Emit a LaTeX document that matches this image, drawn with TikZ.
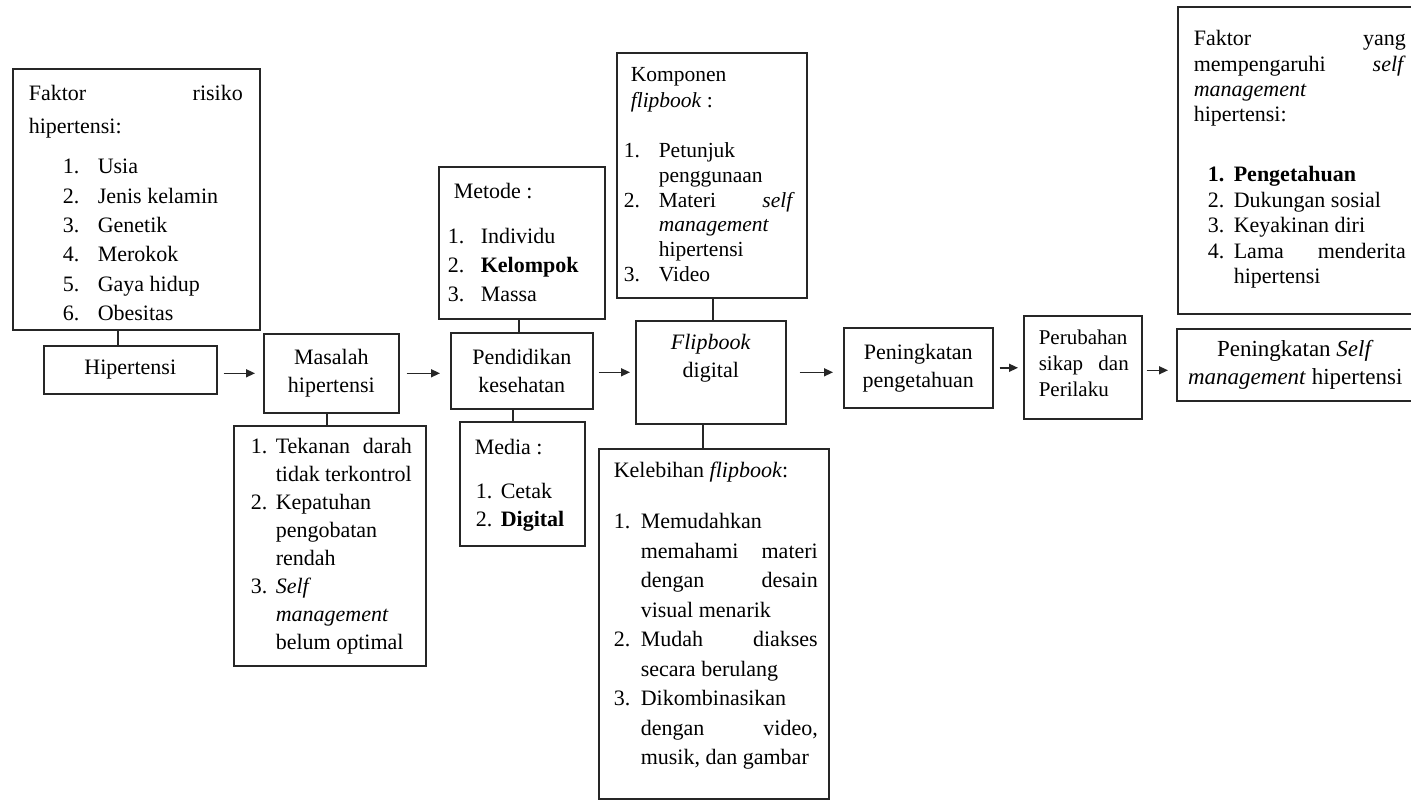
\documentclass[tikz,border=0pt]{standalone}
\usepackage{fontspec}
\setmainfont{Liberation Serif}
\usetikzlibrary{arrows.meta}
\newcommand{\itm}[2]{\par\noindent\hangindent=#1\hangafter=1\makebox[#1][l]{#2}\ignorespaces}
\newcommand{\fs}[2]{\fontsize{#1}{#2}\selectfont}
\newcommand{\st}{\rule{0pt}{16pt}}
\tikzset{
  box/.style={draw=black!85, line width=1.6pt, inner sep=0pt, anchor=north west},
  link/.style={draw=black!85, line width=1.4pt},
  arr/.style={link, -{Triangle[length=9pt,width=8pt]}}
}
\begin{document}
\begin{tikzpicture}[x=1pt,y=-1pt, every node/.style={font=\fs{22}{28}}]
\useasboundingbox (0,0) rectangle (1411,800);
\fill[white] (0,0) rectangle (1411,800);

% Faktor risiko
\node[box] (A) at (12,68) {\begin{minipage}[t][261pt][t]{247pt}
\fs{22}{33}\leftskip=16pt \rightskip=17pt
\vspace*{16pt}\noindent\st Faktor\hfill risiko\\ hipertensi:\par
\fs{22}{29.4}\vspace{10.6pt}\leftskip=50pt \rightskip=0pt
\itm{35pt}{1.}Usia
\itm{35pt}{2.}Jenis kelamin
\itm{35pt}{3.}Genetik
\itm{35pt}{4.}Merokok
\itm{35pt}{5.}Gaya hidup
\itm{35pt}{6.}Obesitas\par
\end{minipage}};

\node[box, minimum width=173pt, minimum height=48pt] (B) at (43,345) {Hipertensi};

\node[box, minimum width=135pt, minimum height=79pt, align=center] (C) at (263,333) {Masalah\\hipertensi};

% Masalah list
\node[box] (D) at (233,425) {\begin{minipage}[t][240pt][t]{192pt}
\fs{22}{28}\leftskip=17pt \rightskip=14pt
\vspace*{12pt}\itm{25pt}{\st 1.}Tekanan\hfill darah\\ tidak terkontrol
\itm{25pt}{2.}Kepatuhan\\ pengobatan\\ rendah
\itm{25pt}{3.}\textit{Self}\\ \textit{management}\\ belum optimal\par
\end{minipage}};

\node[box, minimum width=142pt, minimum height=76pt, align=center] (E) at (450,332) {Pendidikan\\kesehatan};

% Metode
\node[box] (F) at (438,166) {\begin{minipage}[t][152pt][t]{166pt}
\fs{22}{29}\leftskip=15pt
\vspace*{16pt}\noindent\st Metode :\par
\vspace{16pt}\leftskip=9pt
\itm{33pt}{1.}Individu
\itm{33pt}{2.}\textbf{Kelompok}
\itm{33pt}{3.}Massa\par
\end{minipage}};

% Media
\node[box] (G) at (459,421) {\begin{minipage}[t][124pt][t]{125pt}
\fs{22}{28}\leftskip=15pt
\vspace*{17pt}\noindent\st Media :\par
\vspace{16pt}\leftskip=16pt
\itm{25pt}{1.}Cetak
\itm{25pt}{2.}\textbf{Digital}\par
\end{minipage}};

% Komponen flipbook
\node[box] (H) at (616,52) {\begin{minipage}[t][245pt][t]{190pt}
\fs{21.5}{26}\leftskip=14pt \rightskip=12pt
\vspace*{13pt}\noindent\st Komponen\\ \textit{flipbook} :\par
\fs{21.5}{24.8}\vspace{25pt}\leftskip=7pt
\itm{35pt}{1.}Petunjuk\\ penggunaan
\itm{35pt}{2.}Materi\hfill\textit{self}\\ \textit{management}\\ hipertensi
\itm{35pt}{3.}Video\par
\end{minipage}};

% Flipbook digital
\node[box] (I) at (635,320) {\begin{minipage}[t][103pt][t]{150pt}
\centering\fs{22}{28}
\vspace*{13pt}\st\textit{Flipbook}\\ digital\par
\end{minipage}};

% Kelebihan flipbook
\node[box] (J) at (598,448) {\begin{minipage}[t][350pt][t]{230pt}
\fs{22}{29.5}\leftskip=15pt \rightskip=11pt
\vspace*{13pt}\noindent\st Kelebihan \textit{flipbook}:\par
\vspace{21.5pt}
\itm{27pt}{1.}Memudahkan\\ memahami\hfill materi\\ dengan\hfill desain\\ visual menarik
\itm{27pt}{2.}Mudah\hfill diakses\\ secara berulang
\itm{27pt}{3.}Dikombinasikan\\ dengan\hfill video,\\ musik, dan gambar\par
\end{minipage}};

\node[box, minimum width=149pt, minimum height=80pt, align=center] (K) at (843,327) {Peningkatan\\pengetahuan};

% Perubahan
\node[box] (L) at (1023,315) {\begin{minipage}[t][103pt][t]{118pt}
\fs{21}{26}\leftskip=15pt \rightskip=13pt
\vspace*{13pt}\noindent\st Perubahan\\ sikap\hfill dan\\ Perilaku\par
\end{minipage}};

% Faktor yang mempengaruhi
\node[box] (M) at (1177,6) {\begin{minipage}[t][307pt][t]{236pt}
\fs{22}{25.3}\leftskip=16pt \rightskip=8pt
\vspace*{23pt}\noindent\st Faktor\hfill yang\\ mempengaruhi\hfill\textit{self}\\ \textit{management}\\ hipertensi:\par
\fs{22}{25.5}\vspace{34.5pt}\leftskip=30pt
\itm{26pt}{\textbf{1.}}\textbf{Pengetahuan}
\itm{26pt}{2.}Dukungan sosial
\itm{26pt}{3.}Keyakinan diri
\itm{26pt}{4.}Lama\hfill menderita\\ hipertensi\par
\end{minipage}};

\node[box, minimum width=237pt, minimum height=72pt, align=center, font=\fs{23}{28}] (N) at (1176,328) {Peningkatan \textit{Self}\\\textit{management} hipertensi};

% vertical connectors
\coordinate (xa) at (118,0);
\coordinate (xc) at (327,0);
\coordinate (xf) at (519,0);
\coordinate (xg) at (513,0);
\coordinate (xh) at (713,0);
\coordinate (xj) at (703,0);
\draw[link] (A.south -| xa) -- (B.north -| xa);
\draw[link] (C.south -| xc) -- (D.north -| xc);
\draw[link] (F.south -| xf) -- (E.north -| xf);
\draw[link] (E.south -| xg) -- (G.north -| xg);
\draw[link] (H.south -| xh) -- (I.north -| xh);
\draw[link] (I.south -| xj) -- (J.north -| xj);

% arrows
\draw[arr, shorten <=6pt, shorten >=8pt] (B.east |- C.west) -- (C.west);
\draw[arr, shorten <=7pt, shorten >=10pt] (C.east) -- (C.east -| E.west);
\draw[arr, shorten <=5pt, shorten >=5pt] (E.east |- I.west) -- (I.west);
\draw[arr, shorten <=13pt, shorten >=10pt] (I.east) -- (I.east -| K.west);
\draw[arr, shorten <=6pt, shorten >=5pt] (K.east) -- (K.east -| L.west);
\draw[arr, shorten <=4pt, shorten >=8pt] ([yshift=-3pt]L.east) -- ([yshift=-3pt]L.east -| N.west);
\end{tikzpicture}
\end{document}
